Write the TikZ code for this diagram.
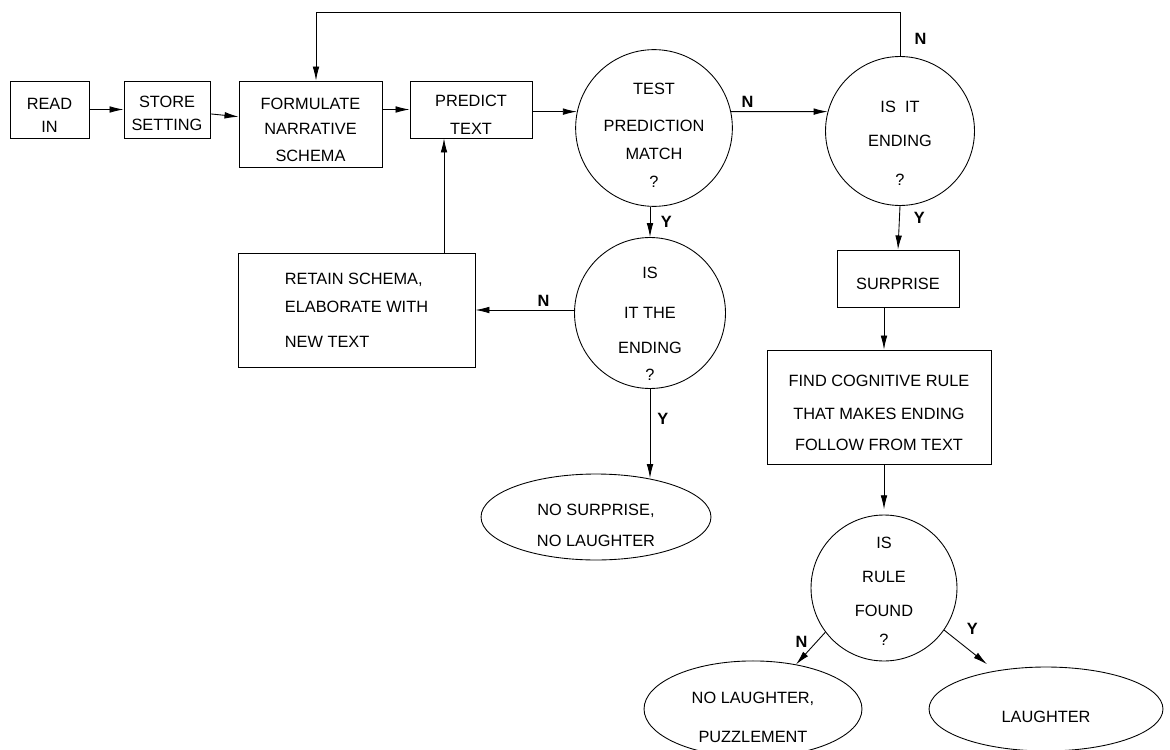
\documentclass[tikz,border=0pt]{standalone}
\usepackage{fontspec}
\setmainfont{Liberation Sans}
\usetikzlibrary{shapes.geometric, arrows.meta, calc}
\newcommand{\topgap}[1]{\rule{0pt}{#1}}

\begin{document}
\begin{tikzpicture}[x=0.02cm, y=-0.02cm, line width=0.5pt,
    font=\fontsize{9.3}{11}\selectfont,
    block/.style = {draw, rectangle, inner sep=0pt, align=center},
    ask/.style = {draw, circle, inner sep=0pt, align=center},
    outcome/.style = {draw, ellipse, inner sep=0pt, align=center},
    flow/.style = {-{Latex[length=8pt, width=3.8pt]}},
    yn/.style = {font=\fontsize{9.3}{11}\selectfont\bfseries, inner sep=2pt}]
      \useasboundingbox (0,0) rectangle (1170,750);
      \node [block, minimum width=1.58cm, minimum height=1.14cm] (read) at (49.5,109.5) {\topgap{13.6pt}READ\\[2.1pt]IN};
      \node [block, minimum width=1.72cm, minimum height=1.14cm] (store) at (167,109.5) {\topgap{11.4pt}STORE\\[2.1pt]SETTING};
      \node [block, minimum width=2.86cm, minimum height=1.72cm] (formulate) at (310.5,124) {\topgap{13.6pt}FORMULATE\\[3.2pt]NARRATIVE\\[4.4pt]SCHEMA};
      \node [block, minimum width=2.44cm, minimum height=1.14cm] (predict) at (471,109.5) {\topgap{12.4pt}PREDICT\\[4.9pt]TEXT};
      \node [ask, minimum size=3cm] (match) at (654,128) {\topgap{14.8pt}TEST\\[10.1pt]PREDICTION\\[4.9pt]MATCH\\[5.5pt]?};
      \node [ask, minimum size=2.98cm] (isit) at (900,131) {\topgap{21pt}IS\ \ IT\\[8.3pt]ENDING\\[11.2pt]?};
      \node [block, minimum width=2.44cm, minimum height=1.14cm] (surprise) at (898,278.5) {\topgap{12.4pt}SURPRISE};
      \node [ask, minimum size=3.02cm] (isthe) at (650,313) {\topgap{18.8pt}IS\\[11.8pt]IT THE\\[8.9pt]ENDING\\[4.4pt]?};
      \node [block, align=left, minimum width=4.74cm, minimum height=2.28cm] (retain) at (356.5,310) {RETAIN SCHEMA,\\[4.9pt]ELABORATE WITH\\[8.9pt]NEW TEXT};
      \node [outcome, minimum width=4.6cm, minimum height=1.72cm] (nosurprise) at (596,517) {\topgap{16pt}NO SURPRISE,\\[6.6pt]NO LAUGHTER};
      \node [block, minimum width=4.48cm, minimum height=2.28cm] (find) at (879,407) {\topgap{13.6pt}FIND COGNITIVE RULE\\[7.8pt]THAT MAKES ENDING\\[6.6pt]FOLLOW FROM TEXT};
      \node [ask, minimum size=2.92cm] (isrule) at (884,588) {\topgap{10.2pt}IS\\[8.3pt]RULE\\[8.3pt]FOUND\\[5.5pt]?};
      \node [outcome, minimum width=4.36cm, minimum height=1.68cm] (nolaughter) at (753,709) {\topgap{16.4pt}NO LAUGHTER,\\[11.2pt]PUZZLEMENT};
      \node [outcome, minimum width=4.68cm, minimum height=1.68cm] (laughter) at (1046,709) {\topgap{16pt}LAUGHTER};
      \coordinate (loop) at (316,12);
      \coordinate (up) at (444,200);

      \draw [flow] (read) -- (store);
      \draw [flow] (store) -- (formulate);
      \draw [flow] (formulate.east |- predict) -- (predict);
      \draw [flow] (match.168 -| predict.east) -- (match.168);
      \draw [flow] (match.12) -- node[yn, pos=0.17, above] {N} (isit.165);
      \draw [flow] (isit.north) -- node[yn, pos=0.38, right=6pt] {N} (isit.north |- loop) -- (loop) -- (formulate.north -| loop);
      \draw [flow] (match.south -| isthe.north) -- node[yn, right=4pt] {Y} (isthe.north);
      \draw [flow] (isit.south) -- node[yn, pos=0.28, right=6pt] {Y} (surprise.north);
      \draw [flow] (retain.east -| isthe.west) -- node[yn, pos=0.31, above] {N} (retain.east);
      \draw [flow] (retain.north -| up) -- (predict.south -| up);
      \draw [flow] (isthe.south) -- node[yn, pos=0.34, right=2pt] {Y} (isthe.south |- nosurprise.37);
      \draw [flow] (surprise.south -| isrule) -- (find.north -| isrule);
      \draw [flow, shorten >=3pt] (find.south -| isrule) -- (isrule.north);
      \draw [flow] (isrule.217) -- node[yn, pos=0.3, left=3pt] {N} (nolaughter.46);
      \draw [flow, shorten >=6pt] (isrule.-35) -- node[yn, pos=0.3, above right=2pt] {Y} (laughter.143);
\end{tikzpicture}
\end{document}
